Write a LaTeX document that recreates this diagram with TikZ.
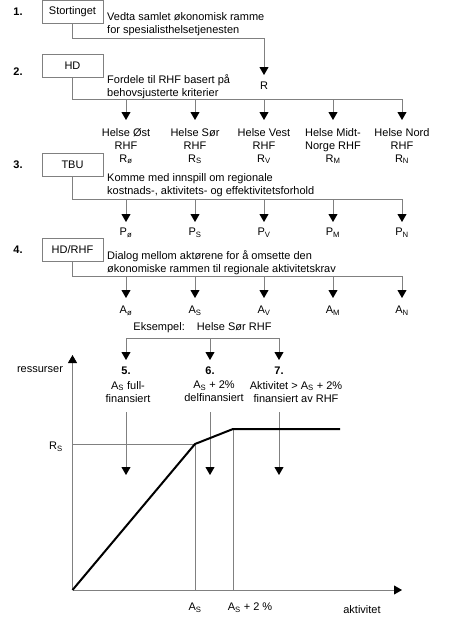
\documentclass[tikz,border=0pt]{standalone}
\usepackage{fontspec}
\setmainfont{Liberation Sans}
\usetikzlibrary{arrows.meta}
\begin{document}
\begin{tikzpicture}[x=1pt,y=-1pt,
  font=\fontsize{11}{13}\selectfont,
  box/.style={draw=black!50, line width=0.7pt, minimum width=61pt, minimum height=23pt, inner sep=0pt},
  num/.style={font=\fontsize{11}{13}\selectfont\bfseries, inner sep=0pt},
  conn/.style={draw=black!50, line width=0.8pt},
  arr/.style={conn, -{Triangle[width=9pt,length=8pt,color=black,fill=black]}},
  txt/.style={align=left, anchor=north west, inner sep=0pt},
  lbl/.style={align=center, anchor=north, inner sep=0pt},
  curve/.style={line width=2pt, draw=black, line join=miter}]
\useasboundingbox (0,0) rectangle (450,624);

% step numbers
\node[num] (n1) at (18,12) {1.};
\node[num] (n2) at (18,72) {2.};
\node[num] (n3) at (18,165) {3.};
\node[num] (n4) at (18,250) {4.};

% boxes
\node[box] (st) at (72.5,12) {Stortinget};
\node[box] (hd) at (72.5,66) {HD};
\node[box] (tbu) at (72.5,164.5) {TBU};
\node[box] (hdr) at (72.5,249.5) {HD/RHF};

% descriptions
\node[txt] (d1) at (107,12.5) {Vedta samlet økonomisk ramme\\for spesialisthelsetjenesten};
\node[txt] (d2) at (107,74) {Fordele til RHF basert på\\behovsjusterte kriterier};
\node[txt] (d3) at (107,173) {Komme med innspill om regionale\\kostnads-, aktivitets- og effektivitetsforhold};
\node[txt] (d4) at (107,250) {Dialog mellom aktørene for å omsette den\\økonomiske rammen til regionale aktivitetskrav};

% tree 1
\coordinate (j1a) at (72.5,38);
\coordinate (j1b) at (264,38);
\coordinate (tR) at (264,75);
\draw[arr] (st.south) -- (j1a) -- (j1b) -- (tR);
\node[lbl] (R) at (264,82) {R};

% tree 2
\coordinate (j2a) at (72.5,99);
\coordinate (j2b) at (402,99);
\draw[conn] (hd.south) -- (j2a) -- (j2b);
\foreach \x [count=\i] in {126,195,264,333,402}{
  \coordinate (r\i a) at (\x,99);
  \coordinate (r\i b) at (\x,120);
  \draw[arr] (r\i a) -- (r\i b);
}
\node[lbl] (h1) at (126,128) {Helse Øst\\RHF\\R\textsubscript{ø}};
\node[lbl] (h2) at (195,128) {Helse Sør\\RHF\\R\textsubscript{S}};
\node[lbl] (h3) at (264,128) {Helse Vest\\RHF\\R\textsubscript{V}};
\node[lbl] (h4) at (333,128) {Helse Midt-\\Norge RHF\\R\textsubscript{M}};
\node[lbl] (h5) at (402,128) {Helse Nord\\RHF\\R\textsubscript{N}};

% tree 3
\coordinate (j3a) at (72.5,199);
\coordinate (j3b) at (402,199);
\draw[conn] (tbu.south) -- (j3a) -- (j3b);
\foreach \x [count=\i] in {126,195,264,333,402}{
  \coordinate (p\i a) at (\x,199);
  \coordinate (p\i b) at (\x,222);
  \draw[arr] (p\i a) -- (p\i b);
}
\node[lbl] (P1) at (126,228) {P\textsubscript{ø}};
\node[lbl] (P2) at (195,228) {P\textsubscript{S}};
\node[lbl] (P3) at (264,228) {P\textsubscript{V}};
\node[lbl] (P4) at (333,228) {P\textsubscript{M}};
\node[lbl] (P5) at (402,228) {P\textsubscript{N}};

% tree 4
\coordinate (j4a) at (72.5,276);
\coordinate (j4b) at (402,276);
\draw[conn] (hdr.south) -- (j4a) -- (j4b);
\foreach \x [count=\i] in {126,195,264,333,402}{
  \coordinate (a\i a) at (\x,276);
  \coordinate (a\i b) at (\x,298);
  \draw[arr] (a\i a) -- (a\i b);
}
\node[lbl] (A1) at (126,306) {A\textsubscript{ø}};
\node[lbl] (A2) at (195,306) {A\textsubscript{S}};
\node[lbl] (A3) at (264,306) {A\textsubscript{V}};
\node[lbl] (A4) at (333,306) {A\textsubscript{M}};
\node[lbl] (A5) at (402,306) {A\textsubscript{N}};

% example
\node[lbl] (eks) at (202.5,322.5) {Eksempel:\hspace{1.1em}Helse Sør RHF};
\coordinate (e1) at (126,338);
\coordinate (e2) at (210,338);
\coordinate (e3) at (279,338);
\coordinate (e1b) at (126,360);
\coordinate (e2b) at (210,360);
\coordinate (e3b) at (279,360);
\draw[conn] (e1) -- (e3);
\draw[arr] (e1) -- (e1b);
\draw[arr] (e2) -- (e2b);
\draw[arr] (e3) -- (e3b);

\node[num] (n5) at (126,371) {5.};
\node[num] (n6) at (210,371) {6.};
\node[num] (n7) at (279,371) {7.};
\node[lbl] (t5) at (128,381) {A\textsubscript{S} full-\\finansiert};
\node[lbl] (t6) at (214,381) {A\textsubscript{S} + 2\%\\delfinansiert};
\node[lbl] (t7) at (296,381) {Aktivitet > A\textsubscript{S} + 2\%\\finansiert av RHF};

\coordinate (v1a) at (126,412);
\coordinate (v2a) at (210,412);
\coordinate (v3a) at (279,412);
\coordinate (v1b) at (126,475);
\coordinate (v2b) at (210,475);
\coordinate (v3b) at (279,475);
\draw[arr] (v1a) -- (v1b);
\draw[arr] (v2a) -- (v2b);
\draw[arr] (v3a) -- (v3b);

% chart
\coordinate (O) at (72.5,590);
\coordinate (Ytop) at (72.5,355);
\coordinate (Xend) at (402,590);
\coordinate (K1) at (195,444);
\coordinate (K2) at (233,429);
\coordinate (E) at (340,429);
\coordinate (RSa) at (72.5,444);
\coordinate (B1) at (195,590);
\coordinate (B2) at (233,590);
\draw[conn] (RSa) -- (K1);
\draw[conn] (K1) -- (B1);
\draw[conn] (K2) -- (B2);
\draw[arr] (O) -- (Ytop);
\draw[arr] (O) -- (Xend);
\draw[curve] (O) -- (K1) -- (K2) -- (E);

\node (yl) at (40,370) {ressurser};
\node (rs) at (56,447) {R\textsubscript{S}};
\node (x1) at (195,608) {A\textsubscript{S}};
\node (x2) at (250,608) {A\textsubscript{S} + 2 \%};
\node (xl) at (362,610) {aktivitet};
\end{tikzpicture}
\end{document}
